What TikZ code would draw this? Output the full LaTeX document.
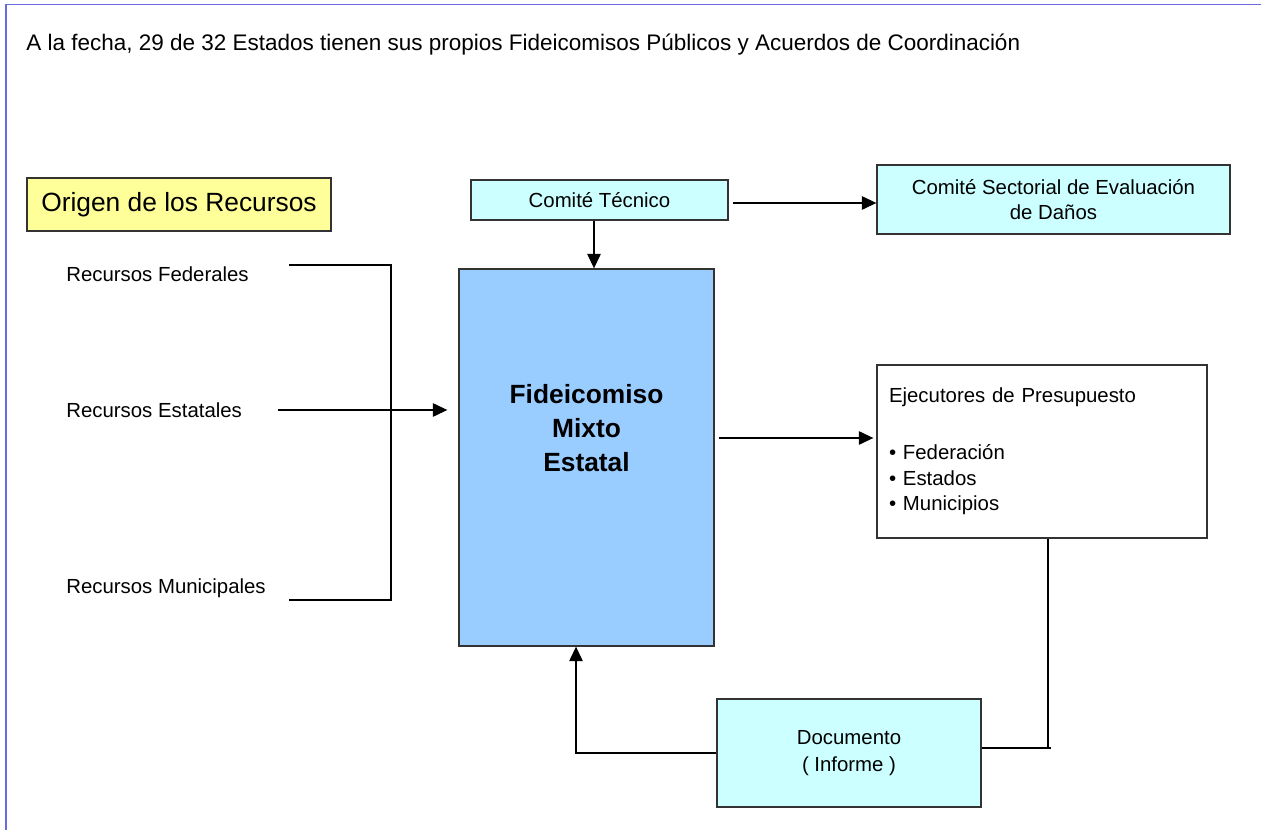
\documentclass[tikz,border=0pt]{standalone}
\usepackage{fontspec}
\setmainfont{Liberation Sans}
\usepackage{tikz}
\usetikzlibrary{arrows.meta}
\definecolor{frameblue}{RGB}{105,105,225}
\definecolor{paleyellow}{RGB}{255,255,153}
\definecolor{palecyan}{RGB}{204,255,255}
\definecolor{skyblue}{RGB}{153,204,255}

\begin{document}
\begin{tikzpicture}[
  x=0.02cm, y=-0.02cm,
  >={Triangle[length=2.9mm,width=2.7mm]},
  txt/.style={font={\fontsize{11.6}{14}\selectfont}, inner sep=0pt},
  box/.style={draw=black!80, line width=0.8pt, inner sep=0pt, align=center,
    font={\fontsize{11.6}{14}\selectfont}},
  link/.style={line width=0.7pt},
  ]
  \useasboundingbox (0,0) rectangle (1261,830);
  % Frame
  \draw[frameblue, line width=1.1pt] (6,830) -- (6,4.5) -- (1261,4.5);
  % Title
  \node[txt, anchor=west, font={\fontsize{12.8}{15}\selectfont}] (titulo) at (26,45)
    {A la fecha, 29 de 32 Estados tienen sus propios Fideicomisos Públicos y Acuerdos de Coordinación};
  % Boxes
  \node[box, fill=paleyellow, minimum width=6.08cm, minimum height=1.06cm,
    font={\fontsize{15}{18}\selectfont}] (origen) at (179,204.5) {Origen de los Recursos};
  \node[box, fill=palecyan, minimum width=5.14cm, minimum height=0.8cm] (tecnico) at (599.5,200) {Comité Técnico};
  \node[box, fill=palecyan, minimum width=7.06cm, minimum height=1.38cm,
    font={\fontsize{11.6}{13.8}\selectfont}] (sectorial) at (1053.5,199.5)
    {Comité Sectorial de Evaluación\\de Daños};
  \node[box, fill=skyblue, minimum width=5.1cm, minimum height=7.54cm,
    font={\fontsize{15}{19.4}\selectfont\bfseries}] (fideicomiso) at (586.5,457.5)
    {Fideicomiso\\Mixto\\Estatal\\[0.5cm]};
  \node[box, fill=white, minimum width=6.6cm, minimum height=3.46cm, align=left,
    text width=6.12cm, inner xsep=0.24cm, font={\fontsize{11.6}{14.6}\selectfont}] (ejecutores) at (1042,451.5)
    {Ejecutores de Presupuesto\\[0.62cm]
     \textbullet\ Federación\\ \textbullet\ Estados\\ \textbullet\ Municipios};
  \node[box, fill=palecyan, minimum width=5.28cm, minimum height=2.16cm,
    font={\fontsize{11.6}{15.5}\selectfont}] (documento) at (849,753) {Documento\\( Informe )};
  % Resources
  \node[txt, anchor=west] (federales) at (66,274) {Recursos Federales};
  \node[txt, anchor=west] (estatales) at (66,410) {Recursos Estatales};
  \node[txt, anchor=west] (municipales) at (66,588) {Recursos Municipales};
  \coordinate (fedend) at (289,265);
  \coordinate (munend) at (289,600);
  \coordinate (corner) at (391,600);
  \draw[link] (fedend) -| (corner) -- (munend);
  \draw[link,->, shorten <=0.72cm, shorten >=2.2mm] (estatales.east) -- (estatales.east -| fideicomiso.west);
  % Arrows
  \draw[link,->, shorten <=0.8mm] ([yshift=-0.06cm]tecnico.east) -- ([yshift=-0.06cm]tecnico.east -| sectorial.west);
  \draw[link,->] ([xshift=-1.1mm]tecnico.south) -- ([xshift=-1.1mm]tecnico.south |- fideicomiso.north);
  \draw[link,->, shorten <=0.8mm, shorten >=0.6mm] ([yshift=0.39cm]fideicomiso.east) -- ([yshift=0.39cm]fideicomiso.east -| ejecutores.west);
  \draw[link] ([xshift=1.2mm]ejecutores.south) |- ([yshift=1mm]documento.east);
  \draw[link] ([xshift=1.2mm,yshift=1mm]ejecutores.south |- documento.east) -- ++(3,0);
  \draw[link,->] (documento.west) -| ([xshift=-2.1mm]fideicomiso.south);
\end{tikzpicture}
\end{document}
